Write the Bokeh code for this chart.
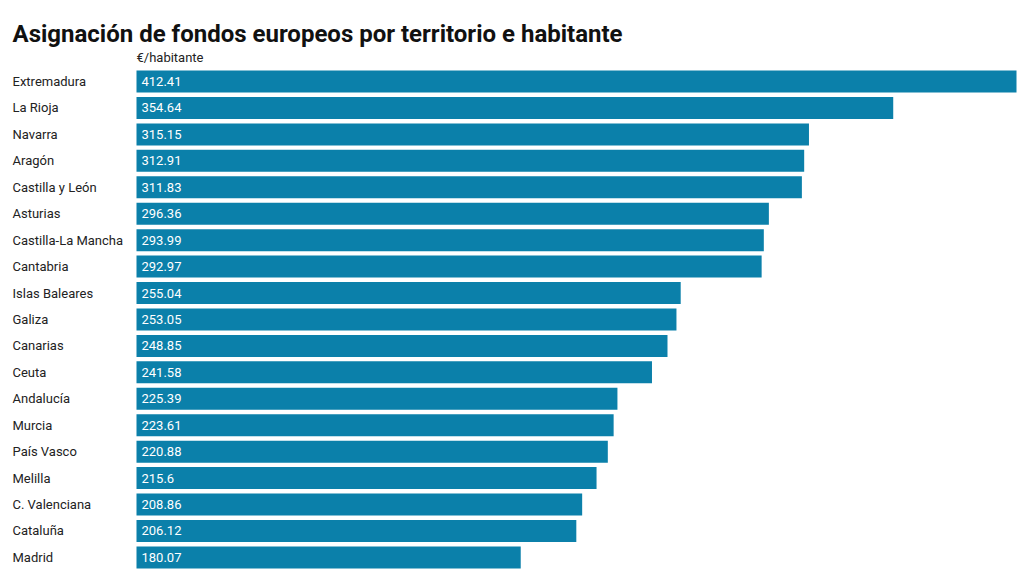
from bokeh.plotting import figure, ColumnDataSource
from bokeh.models import Range1d, Label
from bokeh.core.properties import value
from bokeh.embed import file_html
from bokeh.resources import INLINE

# Data
territorios = ["Extremadura", "La Rioja", "Navarra", "Aragón", "Castilla y León",
               "Asturias", "Castilla-La Mancha", "Cantabria", "Islas Baleares",
               "Galiza", "Canarias", "Ceuta", "Andalucía", "Murcia", "País Vasco",
               "Melilla", "C. Valenciana", "Cataluña", "Madrid"]
valores = [412.41, 354.64, 315.15, 312.91, 311.83, 296.36, 293.99, 292.97, 255.04,
           253.05, 248.85, 241.58, 225.39, 223.61, 220.88, 215.6, 208.86, 206.12, 180.07]
etiquetas = ["412.41", "354.64", "315.15", "312.91", "311.83", "296.36", "293.99",
             "292.97", "255.04", "253.05", "248.85", "241.58", "225.39", "223.61",
             "220.88", "215.6", "208.86", "206.12", "180.07"]

W, H = 1024, 577
FONT = "Roboto"
BAR = "#0b80aa"

# Horizontal layout: bars start at x=136 px, the longest reaches 1016 px
bar_left_px, bar_right_px = 136, 1016
scale = (bar_right_px - bar_left_px) / max(valores)
x0 = -bar_left_px / scale
x1 = x0 + W / scale

# Vertical layout: first row centred at 81 px, rows every 26.44 px
row0_px, pitch = 81, 26.44
y_top = -row0_px / pitch
y_bottom = (H - row0_px) / pitch

filas = list(range(len(territorios)))
src = ColumnDataSource(dict(
    y=filas, v=valores, nombre=territorios, etiqueta=etiquetas,
    xl=[x0 + 12 / scale] * len(filas),
    xv=[5 / scale] * len(filas),
))

p = figure(width=W, height=H, output_backend="svg", toolbar_location=None,
           x_range=Range1d(x0, x1), y_range=Range1d(y_bottom, y_top),
           min_border=0, outline_line_color=None)
p.axis.visible = False
p.grid.visible = False
p.background_fill_color = "white"
p.border_fill_color = "white"

p.hbar(y="y", left=0, right="v", height=22 / pitch, source=src,
       fill_color=BAR, line_color=None)

p.text(x="xl", y="y", text="nombre", source=src, text_font=value(FONT),
       text_font_size="13px", text_color="#222222", text_baseline="middle",
       text_align="left")
p.text(x="xv", y="y", text="etiqueta", source=src, text_font=value(FONT),
       text_font_size="13px", text_color="white", text_baseline="middle",
       text_align="left")

p.add_layout(Label(x=12, y=H - 33, x_units="screen", y_units="screen",
                   text="Asignación de fondos europeos por territorio e habitante",
                   text_font=FONT, text_font_size="24px", text_font_style="bold",
                   text_color="#111111", text_baseline="alphabetic"))
p.add_layout(Label(x=136, y=H - 57, x_units="screen", y_units="screen",
                   text="€/habitante", text_font=FONT, text_font_size="13px",
                   text_color="#222222", text_baseline="middle"))

open("out.html", "w").write(file_html(p, INLINE))
